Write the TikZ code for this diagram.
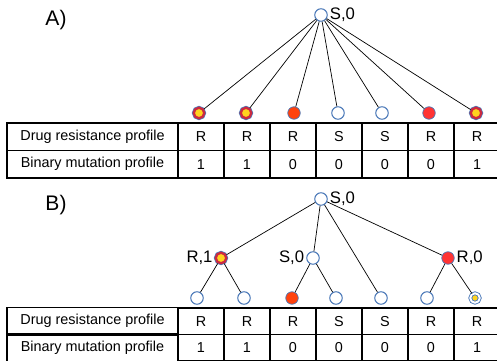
\documentclass[tikz,border=0pt]{standalone}
\usepackage{fontspec}
\setmainfont{Liberation Sans}
\usetikzlibrary{positioning}
\definecolor{edgeblue}{HTML}{4A78B8}
\definecolor{ryellow}{HTML}{FFD320}
\definecolor{ringred}{HTML}{CC2A40}
\definecolor{orred}{HTML}{FF420E}
\definecolor{brred}{HTML}{FF3333}

\begin{document}
\begin{tikzpicture}[x=0.02cm,y=-0.02cm,
	leaf/.style={circle,draw=edgeblue,line width=0.6pt,fill=white,inner sep=0pt,minimum size=0.25cm},
	mutleaf/.style={circle,fill=ryellow,draw=ringred,line width=1.3pt,preaction={draw=edgeblue,line width=2.1pt},inner sep=0pt,minimum size=0.21cm},
	orleaf/.style={leaf,fill=orred,line width=0.4pt},
	redleaf/.style={leaf,fill=brred,line width=0.4pt},
	dleaf/.style={circle,draw=edgeblue,line width=0.5pt,double=white,double distance=1.1pt,fill=ryellow,inner sep=0pt,minimum size=0.19cm},
	lbl/.style={font=\fontsize{9.5}{11}\selectfont,inner sep=1pt},
	cell/.style={draw,line width=0.7pt,inner sep=0pt,minimum width=0.92cm,minimum height=0.55cm,font=\fontsize{8.2}{9.6}\selectfont},
	title/.style={font=\fontsize{12}{14}\selectfont,inner sep=0pt}]
	\useasboundingbox (0,0) rectangle (497,361);
	\clip (0,0) rectangle (497,361);
	\node[title] (ta) at (56,20) {A)};
	\node[title] (tb) at (56,205) {B)};
	\node[leaf,label={[lbl]right:{S,0}}] (roota) at (321,15) {};
	\foreach \x/\s [count=\i] in {199/mutleaf,246/mutleaf,294/orleaf,338/leaf,382/leaf,429/redleaf,476/mutleaf}
		\node[\s] (a\i) at (\x,113) {};
	\foreach \i in {1,...,7}
		\draw (roota) -- (a\i);
	\node[cell,minimum width=3.42cm] (adrug) at (92.5,136.75) {Drug resistance profile};
	\node[cell,minimum width=3.42cm] (abin) at (92.5,164.25) {Binary mutation profile};
	\foreach \r/\b [count=\i] in {R/1,R/1,R/0,S/0,S/0,R/0,R/1} {
		\node[cell] (adr\i) at ({155+46*\i},136.75) {\r};
		\node[cell] (abn\i) at ({155+46*\i},164.25) {\b};
	}
	\node[leaf,label={[lbl]right:{S,0}}] (rootb) at (321,199) {};
	\node[mutleaf,label={[lbl]left:{R,1}}] (bra) at (221,258) {};
	\node[leaf,label={[lbl]left:{S,0}}] (bsb) at (313,258) {};
	\node[redleaf,label={[lbl]right:{R,0}}] (brc) at (448,258) {};
	\foreach \x/\s [count=\i] in {197/leaf,244/leaf,292/orleaf,336/leaf,381/leaf,427/leaf,475/dleaf}
		\node[\s] (b\i) at (\x,298) {};
	\draw (rootb) -- (bra);
	\draw (rootb) -- (bsb);
	\draw (rootb) -- (b5);
	\draw (rootb) -- (brc);
	\draw (bra) -- (b1);
	\draw (bra) -- (b2);
	\draw (bsb) -- (b3);
	\draw (bsb) -- (b4);
	\draw (brc) -- (b6);
	\draw (brc) -- (b7);
	\node[cell,minimum width=3.42cm] (bdrug) at (92.5,321.25) {Drug resistance profile};
	\node[cell,minimum width=3.42cm] (bbin) at (92.5,347.75) {Binary mutation profile};
	\foreach \r/\b [count=\i] in {R/1,R/1,R/0,S/0,S/0,R/0,R/1} {
		\node[cell,minimum height=0.53cm] (bdr\i) at ({155+46*\i},321.25) {\r};
		\node[cell,minimum height=0.53cm] (bbn\i) at ({155+46*\i},347.75) {\b};
	}
\end{tikzpicture}
\end{document}
